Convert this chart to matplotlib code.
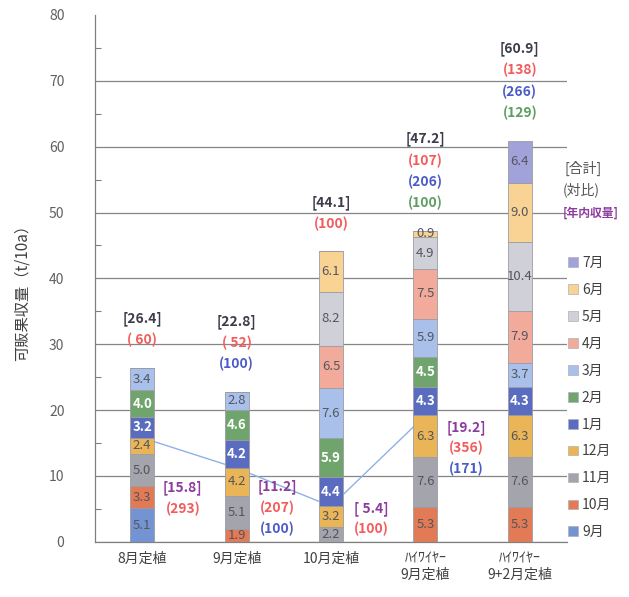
import numpy as np
import matplotlib.pyplot as plt
from matplotlib.patches import Patch

plt.rcParams['font.family'] = ['Noto Sans CJK JP', 'DejaVu Sans']

# データ
categories = ['8月定植', '9月定植', '10月定植', 'ﾊｲﾜｲﾔｰ\n9月定植', 'ﾊｲﾜｲﾔｰ\n9+2月定植']
months = ['9月', '10月', '11月', '12月', '1月', '2月', '3月', '4月', '5月', '6月', '7月']

yield_9 = [5.1, 0, 0, 0, 0]
yield_10 = [3.3, 1.9, 0, 5.3, 5.3]
yield_11 = [5.0, 5.1, 2.2, 7.6, 7.6]
yield_12 = [2.4, 4.2, 3.2, 6.3, 6.3]
yield_1 = [3.2, 4.2, 4.4, 4.3, 4.3]
yield_2 = [4.0, 4.6, 5.9, 4.5, 0]
yield_3 = [3.4, 2.8, 7.6, 5.9, 3.7]
yield_4 = [0, 0, 6.5, 7.5, 7.9]
yield_5 = [0, 0, 8.2, 4.9, 10.4]
yield_6 = [0, 0, 6.1, 0.9, 9.0]
yield_7 = [0, 0, 0, 0, 6.4]

totals = [26.4, 22.8, 44.1, 47.2, 60.9]
ratio_red = [60, 52, 100, 107, 138]
ratio_blue = [None, 100, None, 206, 266]
ratio_green = [None, None, None, 100, 129]

nennai = [15.8, 11.2, 5.4, 19.2]
nennai_red = [293, 207, 100, 356]
nennai_blue = [None, 100, None, 171]

# 色
colors = ['#7393d2', '#e27b55', '#a4a4ac', '#e9b556', '#5a6cc0', '#6fa56c',
          '#a9c1ea', '#f2aa9a', '#d0d0d8', '#f9d394', '#a1a2da']
white_text = {'1月', '2月'}
c_total = '#3c3c4c'
c_red = '#f25c5c'
c_blue = '#4b5cc6'
c_green = '#5f9e62'
c_purple = '#8c3c9c'

series = [yield_9, yield_10, yield_11, yield_12, yield_1, yield_2,
          yield_3, yield_4, yield_5, yield_6, yield_7]

fig = plt.figure(figsize=(6.29, 5.97), dpi=100)
ax = fig.add_axes([95 / 629, 1 - 541.8 / 597, 472 / 629, 526.8 / 597])

x = np.arange(len(categories))
width = 0.255
bottom = np.zeros(len(categories))
for name, vals, col in zip(months, series, colors):
    vals = np.array(vals, dtype=float)
    ax.bar(x, vals, width, bottom=bottom, color=col, edgecolor='#9c9ca4',
           linewidth=0.6, zorder=3, label=name)
    for xi, v, b in zip(x, vals, bottom):
        if v <= 0:
            continue
        if name in white_text:
            ax.text(xi, b + v / 2, f'{v:.1f}', ha='center', va='center',
                    fontsize=9.5, color='white', fontweight='bold', zorder=4)
        else:
            ax.text(xi, b + v / 2, f'{v:.1f}', ha='center', va='center',
                    fontsize=9.5, color='#55555e', zorder=4)
    bottom += vals

# 年内収量の折れ線
ax.plot(x[:len(nennai)], nennai, color='#8cb2e8', lw=1, zorder=2)

# 合計と対比のラベル
for xi, tot, r, b, g in zip(x, totals, ratio_red, ratio_blue, ratio_green):
    lines = [(f'[{tot:.1f}]', c_total), (f'({r:3d})', c_red)]
    if b is not None:
        lines.append((f'({b})', c_blue))
    if g is not None:
        lines.append((f'({g})', c_green))
    y = tot + 4.2
    for txt, col in reversed(lines):
        ax.text(xi, y, txt, ha='center', va='center', fontsize=10,
                color=col, fontweight='bold', zorder=5)
        y += 3.25

# 年内収量のラベル
nennai_label_y = [8.2, 8.3, 5.1, 17.4]
for xi, v, r, b, ly in zip(x, nennai, nennai_red, nennai_blue, nennai_label_y):
    lines = [(f'[{v:4.1f}]', c_purple), (f'({r})', c_red)]
    if b is not None:
        lines.append((f'({b})', c_blue))
    y = ly
    for txt, col in lines:
        ax.text(xi + 0.43, y, txt, ha='center', va='center', fontsize=10,
                color=col, fontweight='bold', zorder=5)
        y -= 3.15

# 軸
ax.set_xlim(-0.5, len(categories) - 0.5)
ax.set_ylim(0, 80)
ax.set_yticks(np.arange(0, 81, 10))
ax.set_yticks(np.arange(5, 80, 10), minor=True)
ax.tick_params(axis='y', which='major', length=0, pad=22, labelsize=10,
               labelcolor='#606060')
ax.tick_params(axis='y', which='minor', direction='in', length=4,
               color='#808080', width=0.8)
ax.set_xticks(x)
ax.set_xticklabels(categories, fontsize=10, color='#404040', linespacing=1.2)
ax.tick_params(axis='x', length=0, pad=7)
ax.yaxis.grid(True, color='#858585', lw=0.9, zorder=0)
ax.get_ygridlines()[-1].set_visible(False)
for s in ['top', 'right']:
    ax.spines[s].set_visible(False)
for s in ['left', 'bottom']:
    ax.spines[s].set_color('#808080')
    ax.spines[s].set_linewidth(0.9)

fig.text(22 / 629, 1 - 289 / 597, '可販果収量（t/10a）', rotation=90,
         ha='center', va='center', fontsize=11, color='#404040')

# 凡例
fig.text(565 / 629, 1 - 168 / 597, '[合計]', ha='left', va='center',
         fontsize=10, color='#555555')
fig.text(563 / 629, 1 - 190 / 597, '(対比)', ha='left', va='center',
         fontsize=10, color='#555555')
fig.text(563 / 629, 1 - 213 / 597, '[年内収量]', ha='left', va='center',
         fontsize=8.5, color=c_purple, fontweight='bold')

handles = [Patch(facecolor=c, edgecolor='#b0b0b8', lw=0.5) for c in colors]
leg = fig.legend(handles[::-1], months[::-1], loc='upper left',
                 bbox_to_anchor=(568 / 629, 1 - 256 / 597), frameon=False,
                 fontsize=10, handlelength=0.7, handleheight=0.7,
                 handletextpad=0.3, labelspacing=0.93, borderpad=0,
                 borderaxespad=0)
for t in leg.get_texts():
    t.set_color('#404040')

fig.savefig('out.png', dpi=100)
